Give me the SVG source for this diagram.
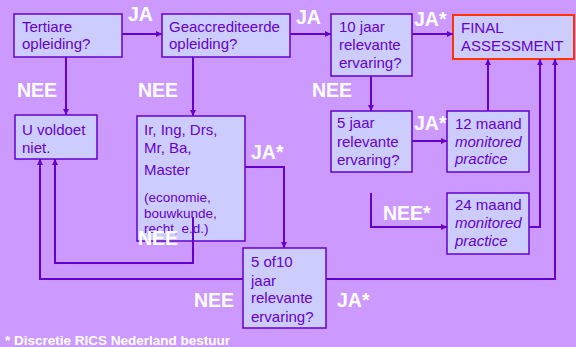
<svg xmlns="http://www.w3.org/2000/svg" width="576" height="347" viewBox="0 0 576 347">
<style>
.box{fill:#CCCCFF;stroke:#6600CC;stroke-width:1.5}
.final{fill:#CCCCFF;stroke:#FF3300;stroke-width:2}
.t{font-family:"Liberation Sans",Arial,sans-serif;font-size:15px;fill:#6600CC}
.s{font-size:13.5px}
.i{font-style:italic}
.c{fill:none;stroke:#6600CC;stroke-width:2}
.lab{font-family:"Liberation Sans",Arial,sans-serif;font-size:19.5px;font-weight:bold;fill:#FFFFFF}
.foot{font-family:"Liberation Sans",Arial,sans-serif;font-size:13.5px;font-weight:bold;fill:#FFFFFF}
</style>
<defs>
<marker id="ah" viewBox="0 0 8 8" refX="8" refY="4" markerWidth="7" markerHeight="6" markerUnits="userSpaceOnUse" orient="auto">
<path d="M0,0 L8,4 L0,8 z" fill="#6600CC"/>
</marker>
</defs>
<rect width="576" height="347" fill="#CC99FF"/>

<g id="n-tertiare"><rect class="box" x="14" y="14" width="108" height="43"/>
<text class="t" x="22" y="32">Tertiare</text><text class="t" x="22" y="49">opleiding?</text></g>

<g id="n-geacc"><rect class="box" x="162" y="14" width="128" height="43"/>
<text class="t" x="169" y="32">Geaccrediteerde</text><text class="t" x="169" y="49">opleiding?</text></g>

<g id="n-10jaar"><rect class="box" x="331" y="14" width="81" height="62"/>
<text class="t" x="339" y="32">10 jaar</text><text class="t" x="339" y="50">relevante</text><text class="t" x="339" y="68">ervaring?</text></g>

<g id="n-final"><rect class="final" x="453" y="15" width="121" height="44"/>
<text class="t" x="461" y="33">FINAL</text><text class="t" x="461" y="51">ASSESSMENT</text></g>

<g id="n-uvoldoet"><rect class="box" x="15" y="115" width="82" height="44"/>
<text class="t" x="22" y="135">U voldoet</text><text class="t" x="22" y="153">niet.</text></g>

<g id="n-ir"><rect class="box" x="137" y="116" width="108" height="125"/>
<text class="t" x="144" y="135">Ir, Ing, Drs,</text><text class="t" x="144" y="153">Mr, Ba,</text><text class="t" x="144" y="175">Master</text>
<text class="t s" x="144" y="202">(economie,</text><text class="t s" x="144" y="218">bouwkunde,</text><text class="t s" x="144" y="233">recht, e.d.)</text></g>

<g id="n-5jaar"><rect class="box" x="331" y="111" width="81" height="61"/>
<text class="t" x="337" y="128">5 jaar</text><text class="t" x="337" y="147">relevante</text><text class="t" x="337" y="165">ervaring?</text></g>

<g id="n-12maand"><rect class="box" x="447" y="111" width="82" height="61"/>
<text class="t" x="455" y="129">12 maand</text><text class="t i" x="455" y="147">monitored</text><text class="t i" x="455" y="164">practice</text></g>

<g id="n-24maand"><rect class="box" x="447" y="193" width="82" height="61"/>
<text class="t" x="455" y="210">24 maand</text><text class="t i" x="455" y="228">monitored</text><text class="t i" x="455" y="246">practice</text></g>

<g id="n-5of10"><rect class="box" x="243" y="248" width="83" height="80"/>
<text class="t" x="251" y="267">5 of10</text><text class="t" x="251" y="286">jaar</text><text class="t" x="251" y="303">relevante</text><text class="t" x="251" y="322">ervaring?</text></g>

<g id="connectors">
<path class="c" d="M122,34 H162" marker-end="url(#ah)"/>
<path class="c" d="M290,34 H331" marker-end="url(#ah)"/>
<path class="c" d="M412,34 H453" marker-end="url(#ah)"/>
<path class="c" d="M66,57 V115" marker-end="url(#ah)"/>
<path class="c" d="M193,57 V116" marker-end="url(#ah)"/>
<path class="c" d="M371,76 V111" marker-end="url(#ah)"/>
<path class="c" d="M412,141 H447" marker-end="url(#ah)"/>
<path class="c" d="M371,193 V227 H447" marker-end="url(#ah)"/>
<path class="c" d="M488,111 V59" marker-end="url(#ah)"/>
<path class="c" d="M529,227 H540 V59" marker-end="url(#ah)"/>
<path class="c" d="M245,167 H284 V248" marker-end="url(#ah)"/>
<path class="c" d="M193,217 V263 H55 V159" marker-end="url(#ah)"/>
<path class="c" d="M243,279 H40 V159" marker-end="url(#ah)"/>
<path class="c" d="M326,279 H555 V59" marker-end="url(#ah)"/>
</g>

<g id="labels">
<text class="lab" x="128" y="21">JA</text>
<text class="lab" x="296" y="24">JA</text>
<text class="lab" x="414" y="26">JA*</text>
<text class="lab" x="17" y="97">NEE</text>
<text class="lab" x="138" y="97">NEE</text>
<text class="lab" x="312" y="97">NEE</text>
<text class="lab" x="414" y="130">JA*</text>
<text class="lab" x="251" y="159">JA*</text>
<text class="lab" x="383" y="220">NEE*</text>
<text class="lab" x="138" y="245">NEE</text>
<text class="lab" x="194" y="307">NEE</text>
<text class="lab" x="337" y="307">JA*</text>
<text class="foot" x="5" y="345">* Discretie RICS Nederland bestuur</text>
</g>
</svg>
